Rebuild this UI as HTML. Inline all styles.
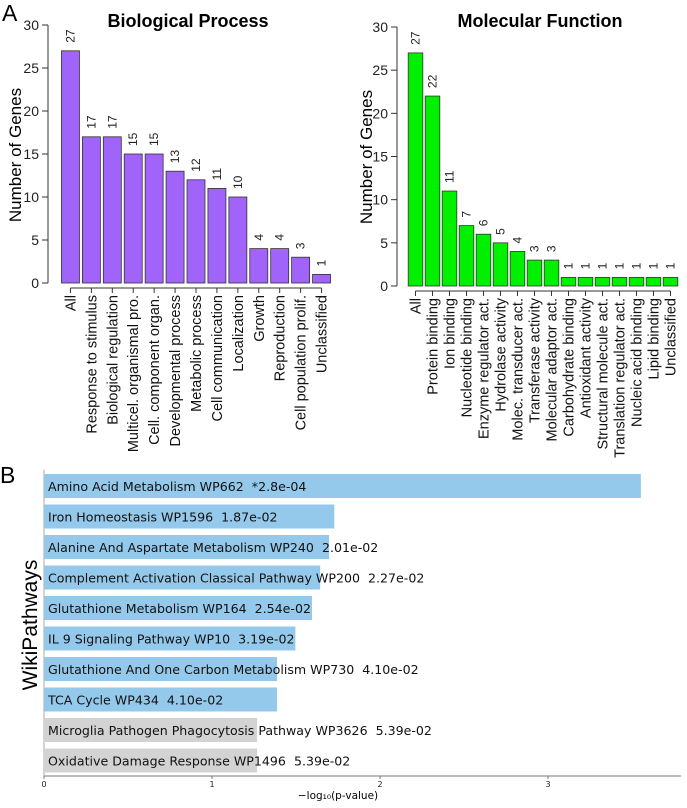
<!DOCTYPE html>
<html><head><meta charset="utf-8"><style>
body{margin:0;background:#fff;}
svg text{font-family:"Liberation Sans",Arial,sans-serif;white-space:pre;}
.dv{font-family:"DejaVu Sans","Liberation Sans",sans-serif !important;}
</style></head><body>
<svg id="s" width="687" height="803" xmlns="http://www.w3.org/2000/svg">
<text x="2" y="21" font-size="23">A</text>
<text x="0" y="483" font-size="23">B</text>
<text x="188" y="27" font-size="18" font-weight="bold" text-anchor="middle">Biological Process</text>
<text x="540" y="27" font-size="18" font-weight="bold" text-anchor="middle">Molecular Function</text>
<text transform="translate(21,155) rotate(-90)" font-size="17" text-anchor="middle">Number of Genes</text>
<text transform="translate(372,157) rotate(-90)" font-size="17" text-anchor="middle">Number of Genes</text>
<text transform="translate(37,625) rotate(-90)" font-size="21" text-anchor="middle">WikiPathways</text>
<text x="338" y="799" font-size="10.5" text-anchor="middle" class="dv">−log₁₀(p-value)</text>
<g id="g"></g>
</svg>
<script>
const bpCats=["All","Response to stimulus","Biological regulation","Multicel. organismal pro.","Cell. component organ.","Developmental process","Metabolic process","Cell communication","Localization","Growth","Reproduction","Cell population prolif.","Unclassified"];
const bpVals=[27,17,17,15,15,13,12,11,10,4,4,3,1];
const mfCats=["All","Protein binding","Ion binding","Nucleotide binding","Enzyme regulator act.","Hydrolase activity","Molec. transducer act.","Transferase activity","Molecular adaptor act.","Carbohydrate binding","Antioxidant activity","Structural molecule act.","Translation regulator act.","Nucleic acid binding","Lipid binding","Unclassified"];
const mfVals=[27,22,11,7,6,5,4,3,3,1,1,1,1,1,1,1];
const yTicks=[0,5,10,15,20,25,30];
const wpNames=["Amino Acid Metabolism WP662  *2.8e-04","Iron Homeostasis WP1596  1.87e-02","Alanine And Aspartate Metabolism WP240  2.01e-02","Complement Activation Classical Pathway WP200  2.27e-02","Glutathione Metabolism WP164  2.54e-02","IL 9 Signaling Pathway WP10  3.19e-02","Glutathione And One Carbon Metabolism WP730  4.10e-02","TCA Cycle WP434  4.10e-02","Microglia Pathogen Phagocytosis Pathway WP3626  5.39e-02","Oxidative Damage Response WP1496  5.39e-02"];
const wpPvals=[2.8e-4,1.87e-2,2.01e-2,2.27e-2,2.54e-2,3.19e-2,4.10e-2,4.10e-2,5.39e-2,5.39e-2];
const wpSig=[true,true,true,true,true,true,true,true,false,false];
const xTicks=[0,1,2,3];

(function(){
const NS="http://www.w3.org/2000/svg", G=document.getElementById('g');
function mk(t,a,txt){const el=document.createElementNS(NS,t);for(const k in a)el.setAttribute(k,a[k]);if(txt!=null)el.textContent=txt;G.appendChild(el);return el;}

function barChart(pre,cats,vals,axX,y0,y30,x0,x1,fill){
  const y=v=>y0-(y0-y30)*v/30;
  let el=mk('line',{x1:axX,x2:axX,y1:y(0),y2:y(30),stroke:'#333','stroke-width':1});
  
  yTicks.forEach(t=>{
    mk('line',{x1:axX-6,x2:axX,y1:y(t),y2:y(t),stroke:'#333'});
    el=mk('text',{x:axX-9,y:y(t)+5,'font-size':14,'text-anchor':'end',fill:'#222'},t);
    
  });
  const pitch=(x1-x0)/cats.length, w=pitch*0.86;
  const cx=i=>x0+pitch*i+pitch/2;
  mk('line',{x1:cx(0),x2:cx(cats.length-1),y1:y0+5,y2:y0+5,stroke:'#333'});
  cats.forEach((c,i)=>{
    el=mk('rect',{x:cx(i)-w/2,y:y(vals[i]),width:w,height:y(0)-y(vals[i]),fill:fill,stroke:'#333','stroke-width':0.8});
    
    el=mk('text',{transform:`translate(${cx(i)+4},${y(vals[i])-8}) rotate(-90)`,'font-size':12,fill:'#222'},vals[i]);
    
    mk('line',{x1:cx(i),x2:cx(i),y1:y0+5,y2:y0+10,stroke:'#333'});
    el=mk('text',{transform:`translate(${cx(i)+5},${y0+12}) rotate(-90)`,'font-size':pre==='bp'?14.5:14.5,'text-anchor':'end',fill:'#111'},c);
    
  });
}
barChart('bp',bpCats,bpVals,48,283,25,60,332,'#a064fa');
barChart('mf',mfCats,mfVals,397,286,27,407,679,'#00f000');

const ax0=44, unit=168, wpTop=474, rowPitch=30.5, bh=24, axY=776;
const xs=v=>ax0+unit*v;
let el=mk('line',{x1:ax0,x2:681,y1:axY,y2:axY,stroke:'#777'});

mk('line',{x1:ax0,x2:ax0,y1:470,y2:axY,stroke:'#aaa'});
xTicks.forEach(t=>{
  mk('line',{x1:xs(t),x2:xs(t),y1:axY,y2:axY+3,stroke:'#777'});
  el=mk('text',{x:xs(t),y:axY+11,'font-size':8,'text-anchor':'middle',class:'dv',fill:'#222'},t);
  
});
wpNames.forEach((n,i)=>{
  const v=-Math.log10(wpPvals[i]), yy=wpTop+rowPitch*i;
  el=mk('rect',{x:ax0,y:yy,width:xs(v)-ax0,height:bh,fill:wpSig[i]?'#94c9ec':'#d3d3d3'});
  
  el=mk('text',{x:ax0+4,y:yy+bh/2+5,'font-size':12.6,class:'dv',fill:'#111'},n);
  
});
})();
</script>
</body></html>
